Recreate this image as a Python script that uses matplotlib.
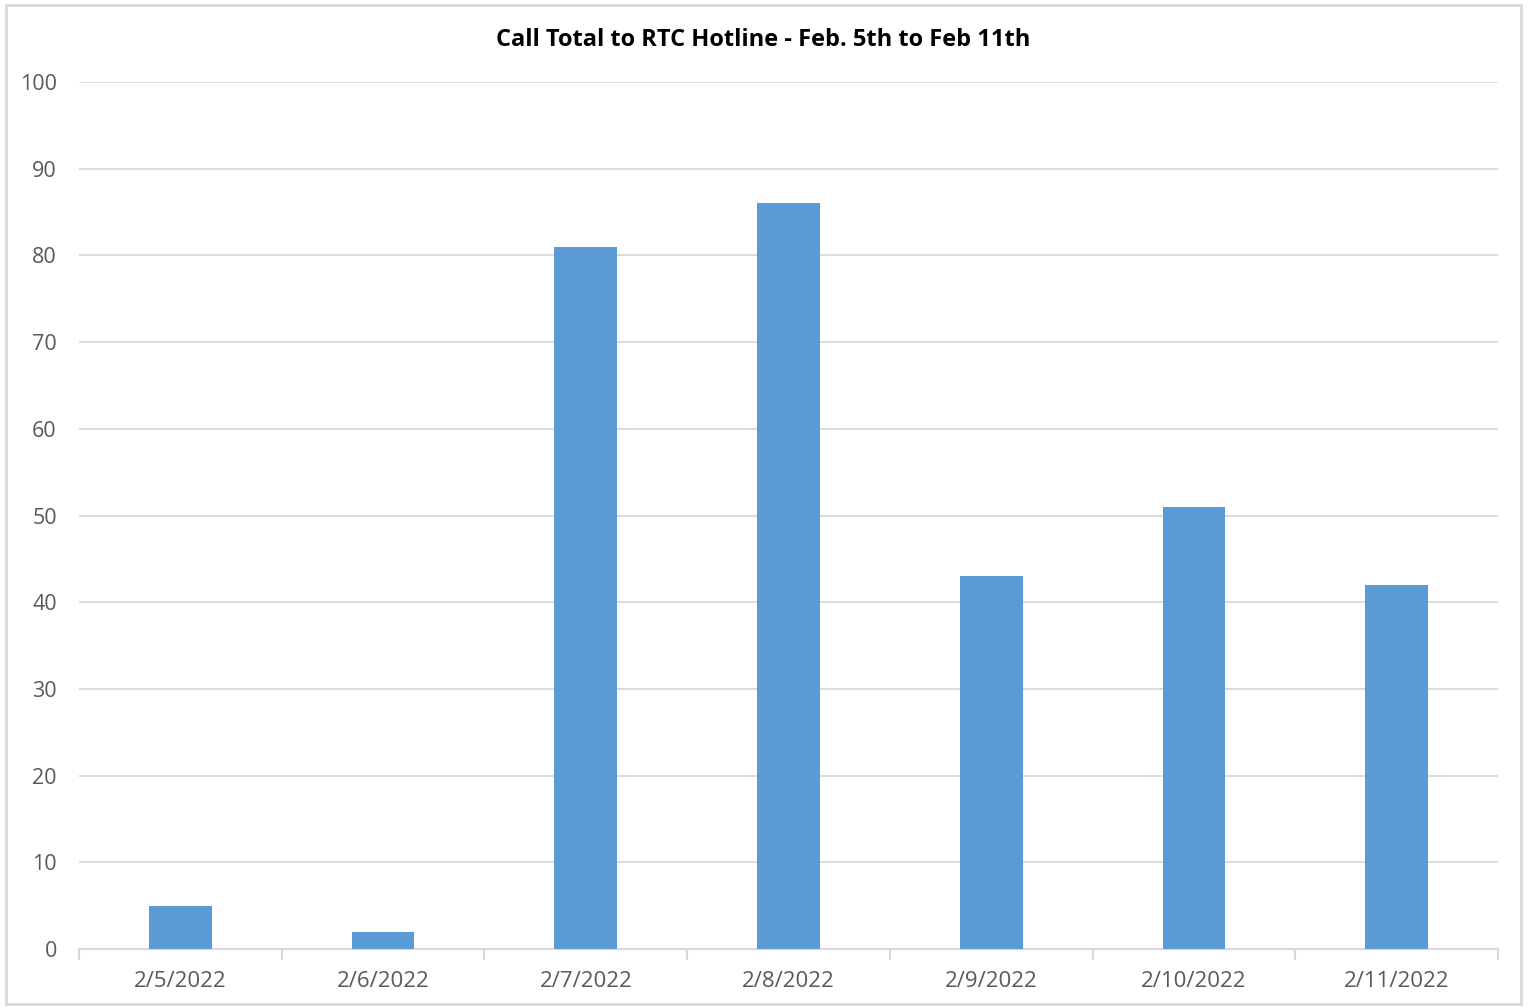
import numpy as np
import matplotlib.pyplot as plt
from matplotlib.patches import Rectangle

# Calls per day
dates = ['2/5/2022', '2/6/2022', '2/7/2022', '2/8/2022', '2/9/2022', '2/10/2022', '2/11/2022']
calls = [5, 2, 81, 86, 43, 51, 42]
y_ticks = [0, 10, 20, 30, 40, 50, 60, 70, 80, 90, 100]

plt.rcParams['font.family'] = ['Open Sans', 'DejaVu Sans']
text_color = '#595959'
grid_color = '#D9D9D9'

fig = plt.figure(figsize=(15.29, 10.07), dpi=100)
ax = fig.add_axes([79 / 1529, 58 / 1007, (1498 - 79) / 1529, (949 - 82) / 1007])

x = np.arange(len(dates))
ax.bar(x, calls, width=0.31, color='#5B9BD5', zorder=3)

ax.set_xlim(-0.5, len(dates) - 0.5)
ax.set_ylim(0, 100)
ax.set_yticks(y_ticks)
ax.set_xticks(x)
ax.set_xticklabels(dates)
ax.set_xticks(np.arange(len(dates) + 1) - 0.5, minor=True)

ax.grid(axis='y', color=grid_color, linewidth=1.3, zorder=0)
for side in ['top', 'right', 'left']:
    ax.spines[side].set_visible(False)
ax.spines['bottom'].set_color(grid_color)
ax.spines['bottom'].set_linewidth(1.5)

ax.tick_params(axis='y', length=0, pad=16, labelsize=15.5, labelcolor=text_color)
ax.tick_params(axis='x', which='major', length=0, pad=16, labelsize=16, labelcolor=text_color)
ax.tick_params(axis='x', which='minor', length=8, width=1.5, color=grid_color)

fig.text(763 / 1529, 1 - 40 / 1007, 'Call Total to RTC Hotline - Feb. 5th to Feb 11th',
         ha='center', va='center', fontsize=17, fontweight='bold', color='black')

# light chart border
fig.add_artist(Rectangle((6 / 1529, 3 / 1007), 1515 / 1529, 999 / 1007,
                         transform=fig.transFigure, fill=False,
                         edgecolor='#D9D9D9', linewidth=2))

fig.savefig('out.png', dpi=100)
